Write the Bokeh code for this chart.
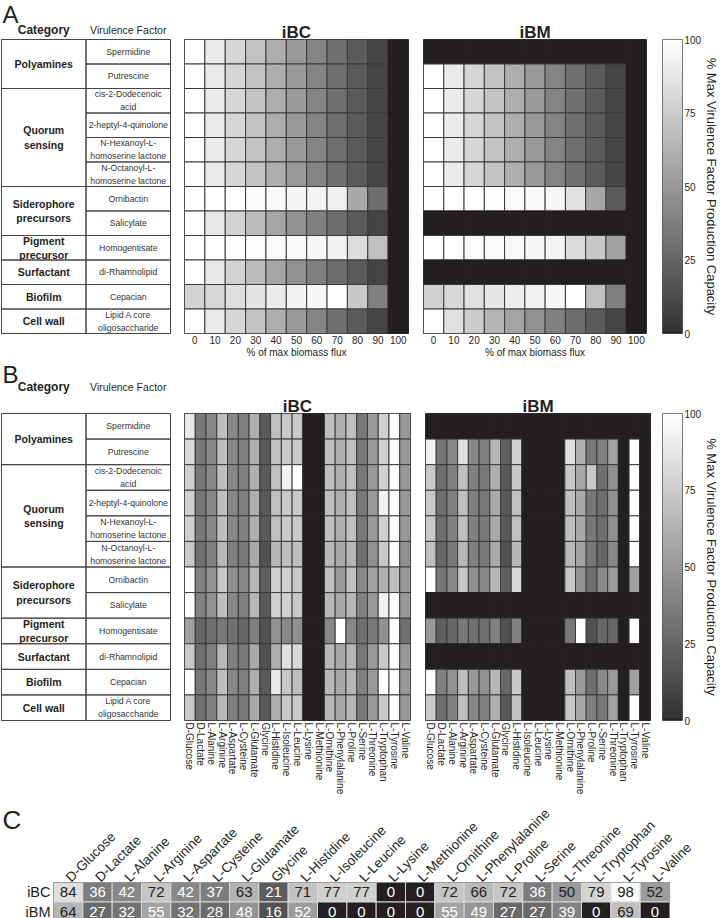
import numpy as np
from bokeh.plotting import figure
from bokeh.models import Range1d, FactorRange, ColumnDataSource, LinearColorMapper, FixedTicker
from bokeh.layouts import row, column
from bokeh.embed import file_html
from bokeh.resources import INLINE
from bokeh.core.properties import value

FONT = "Liberation Sans"
INK = "#231f20"
CELL_LINE = "#3a3a3a"
TABLE_LINE = "#444444"

# ---------------- data ----------------
categories = ["Polyamines", "Quorum\nsensing", "Siderophore\nprecursors",
              "Pigment\nprecursor", "Surfactant", "Biofilm", "Cell wall"]
category_rows = [2, 4, 2, 1, 1, 1, 1]
virulence_factors = ["Spermidine", "Putrescine", "cis-2-Dodecenoic\nacid",
                     "2-heptyl-4-quinolone", "N-Hexanoyl-L-\nhomoserine lactone",
                     "N-Octanoyl-L-\nhomoserine lactone", "Ornibactin", "Salicylate",
                     "Homogentisate", "di-Rhamnolipid", "Cepacian",
                     "Lipid A core\noligosaccharide"]
biomass_levels = ["0", "10", "20", "30", "40", "50", "60", "70", "80", "90", "100"]
nutrients = ["D-Glucose", "D-Lactate", "L-Alanine", "L-Arginine", "L-Aspartate",
             "L-Cysteine", "L-Glutamate", "Glycine", "L-Histidine", "L-Isoleucine",
             "L-Leucine", "L-Lysine", "L-Methionine", "L-Ornithine", "L-Phenylalanine",
             "L-Proline", "L-Serine", "L-Threonine", "L-Tryptophan", "L-Tyrosine", "L-Valine"]
models = ["iBC", "iBM"]
colorbar_ticks = [0, 25, 50, 75, 100]

# Panel A: % max virulence factor production vs % of max biomass flux
ibc_biomass = [
    [100, 90, 80, 70, 60, 50, 40, 30, 20, 10, 0],
    [100, 90, 80, 70, 60, 50, 40, 30, 20, 10, 0],
    [100, 90, 80, 70, 60, 50, 40, 30, 20, 10, 0],
    [100, 90, 80, 70, 60, 50, 40, 30, 20, 10, 0],
    [100, 90, 80, 70, 60, 50, 40, 30, 20, 10, 0],
    [100, 90, 80, 70, 60, 50, 40, 30, 20, 10, 0],
    [100, 100, 100, 98, 97, 95, 94, 92, 58, 29, 0],
    [100, 89, 78, 67, 56, 46, 38, 29, 19, 9, 0],
    [100, 100, 99, 99, 98, 97, 96, 93, 83, 69, 0],
    [100, 89, 78, 67, 56, 46, 38, 29, 19, 9, 0],
    [79, 81, 84, 87, 90, 93, 96, 100, 73, 38, 0],
    [100, 90, 80, 70, 60, 50, 40, 30, 20, 10, 0],
]
ibm_biomass = [
    [0, 0, 0, 0, 0, 0, 0, 0, 0, 0, 0],
    [100, 90, 80, 70, 60, 50, 40, 30, 20, 10, 0],
    [100, 90, 80, 70, 60, 50, 40, 30, 20, 10, 0],
    [100, 90, 80, 70, 60, 50, 40, 30, 20, 10, 0],
    [100, 90, 80, 70, 60, 50, 40, 30, 20, 10, 0],
    [100, 90, 80, 70, 60, 50, 40, 30, 20, 10, 0],
    [100, 100, 100, 99, 98, 97, 96, 85, 56, 20, 0],
    [0, 0, 0, 0, 0, 0, 0, 0, 0, 0, 0],
    [100, 100, 99, 98, 97, 96, 94, 82, 73, 54, 0],
    [0, 0, 0, 0, 0, 0, 0, 0, 0, 0, 0],
    [77, 81, 85, 88, 91, 93, 96, 100, 69, 38, 0],
    [100, 85, 75, 64, 55, 46, 38, 29, 20, 10, 0],
]

# Panel B: % max virulence factor production per sole carbon/nitrogen source
ibc_nutrient = [
    [89, 34, 42, 69, 42, 38, 61, 19, 69, 73, 73, 0, 0, 69, 61, 69, 34, 50, 77, 100, 50],
    [81, 34, 42, 69, 42, 38, 61, 19, 69, 73, 73, 0, 0, 69, 61, 69, 34, 50, 77, 100, 50],
    [77, 34, 42, 69, 42, 38, 61, 19, 69, 93, 100, 0, 0, 69, 61, 69, 34, 50, 77, 100, 50],
    [77, 34, 42, 69, 42, 38, 61, 19, 69, 73, 73, 0, 0, 69, 61, 69, 34, 50, 93, 100, 50],
    [77, 34, 42, 69, 42, 38, 61, 19, 69, 73, 73, 0, 0, 69, 61, 69, 34, 50, 77, 100, 50],
    [73, 30, 38, 65, 38, 34, 58, 15, 65, 69, 69, 0, 0, 65, 58, 65, 30, 46, 73, 100, 46],
    [100, 38, 46, 73, 46, 42, 65, 22, 77, 77, 73, 0, 0, 69, 50, 69, 42, 54, 61, 69, 50],
    [100, 38, 46, 69, 42, 38, 65, 19, 77, 77, 73, 0, 0, 65, 58, 65, 38, 50, 93, 100, 50],
    [54, 26, 30, 34, 30, 26, 38, 15, 46, 42, 46, 0, 0, 42, 100, 42, 30, 34, 46, 100, 30],
    [73, 30, 38, 65, 38, 34, 58, 15, 61, 85, 81, 0, 0, 65, 58, 65, 34, 50, 73, 100, 50],
    [100, 34, 42, 69, 42, 38, 61, 19, 89, 73, 69, 0, 0, 65, 58, 65, 38, 50, 100, 100, 50],
    [73, 30, 38, 65, 38, 34, 58, 19, 61, 73, 73, 0, 0, 65, 58, 65, 34, 50, 73, 100, 50],
]
ibm_nutrient = [
    [0, 0, 0, 0, 0, 0, 0, 0, 0, 0, 0, 0, 0, 0, 0, 0, 0, 0, 0, 0, 0],
    [93, 34, 42, 85, 42, 38, 65, 22, 77, 0, 0, 0, 0, 85, 61, 34, 38, 54, 0, 100, 0],
    [73, 30, 38, 69, 38, 34, 61, 19, 73, 0, 0, 0, 0, 73, 58, 73, 30, 46, 0, 100, 0],
    [73, 30, 38, 69, 38, 34, 58, 19, 69, 0, 0, 0, 0, 69, 58, 34, 30, 46, 0, 100, 0],
    [73, 30, 38, 69, 38, 34, 58, 19, 69, 0, 0, 0, 0, 69, 58, 34, 30, 46, 0, 100, 0],
    [69, 26, 34, 65, 38, 34, 58, 15, 65, 0, 0, 0, 0, 65, 54, 34, 26, 42, 0, 100, 0],
    [100, 34, 42, 73, 46, 42, 65, 22, 81, 0, 0, 0, 0, 73, 46, 30, 42, 50, 0, 54, 0],
    [0, 0, 0, 0, 0, 0, 0, 0, 0, 0, 0, 0, 0, 0, 0, 0, 0, 0, 0, 0, 0],
    [50, 22, 26, 34, 30, 30, 38, 15, 38, 0, 0, 0, 0, 34, 100, 15, 26, 26, 0, 100, 0],
    [0, 0, 0, 0, 0, 0, 0, 0, 0, 0, 0, 0, 0, 0, 0, 0, 0, 0, 0, 0, 0],
    [100, 38, 46, 69, 50, 46, 65, 26, 73, 0, 0, 0, 0, 69, 50, 30, 42, 50, 0, 54, 0],
    [73, 30, 38, 69, 42, 38, 61, 19, 69, 0, 0, 0, 0, 73, 58, 38, 34, 54, 0, 100, 0],
]

# Panel C: summary values per nutrient
ibc_summary = [84, 36, 42, 72, 42, 37, 63, 21, 71, 77, 77, 0, 0, 72, 66, 72, 36, 50, 79, 98, 52]
ibm_summary = [64, 27, 32, 55, 32, 28, 48, 16, 52, 0, 0, 0, 0, 55, 49, 27, 27, 39, 0, 69, 0]

# ---------------- colour scale ----------------
def _gray(level):
    g = int(round(level))
    return "#{0:02x}{0:02x}{0:02x}".format(g)

palette = [INK] + [_gray(50 + 205 * i / 255) for i in range(1, 256)]
mapper = LinearColorMapper(palette=palette, low=0, high=100)


def _free(p):
    try:
        p.frame_align = False
    except Exception:
        pass
    return p


def table_fig(letter, height, top, frame_h, letter_px, header_px):
    n = len(virulence_factors)
    rh = frame_h / n
    cw = 84.5
    p = figure(width=176, height=height, min_border=0,
               x_range=Range1d(-1.0 / cw, 175.0 / cw),
               y_range=Range1d((height - top) / rh, -top / rh),
               x_axis_type=None, y_axis_type=None, outline_line_color=None,
               toolbar_location=None, output_backend="svg")
    _free(p)
    starts = np.cumsum([0] + category_rows[:-1])
    sizes = np.array(category_rows)
    idx = np.arange(n)
    p.quad(left=1, right=2, top=idx, bottom=idx + 1, fill_color=None,
           line_color=TABLE_LINE, line_width=1)
    p.quad(left=0, right=1, top=starts, bottom=starts + sizes, fill_color=None,
           line_color=TABLE_LINE, line_width=1)
    p.text(x=0.5, y=starts + sizes / 2.0, text=categories, text_font=value(FONT),
           text_font_size=value("10.5px"), text_font_style="bold", text_align="center",
           text_baseline="middle", text_color=INK, text_line_height=1.2)
    p.text(x=1.5, y=idx + 0.5, text=virulence_factors, text_font=value(FONT),
           text_font_size=value("8.7px"), text_align="center", text_baseline="middle",
           text_color="#333333", text_line_height=1.3)
    hy = -header_px / rh
    p.text(x=[0.5], y=[hy], text=["Category"], text_font=value(FONT),
           text_font_size=value("12px"), text_font_style="bold", text_align="center",
           text_baseline="middle", text_color=INK)
    p.text(x=[1.5], y=[hy], text=["Virulence Factor"], text_font=value(FONT),
           text_font_size=value("10.5px"), text_align="center", text_baseline="middle",
           text_color=INK)
    p.text(x=[1.0 / cw], y=[-letter_px / rh], text=[letter], text_font=value(FONT),
           text_font_size=value("24px"), text_align="left", text_baseline="middle",
           text_color=INK)
    return p


def heatmap(matrix, xfactors, title, fw, fh, left, right, top, bottom,
            label_size, orientation, xlabel=None):
    p = figure(x_range=FactorRange(factors=list(xfactors)),
               y_range=FactorRange(factors=list(reversed(virulence_factors))),
               frame_width=fw, frame_height=fh, min_border_left=left,
               min_border_right=right, min_border_top=top, min_border_bottom=bottom,
               title=title, toolbar_location=None, output_backend="svg")
    xs, ys, vs, lcs = [], [], [], []
    for r, vf in enumerate(virulence_factors):
        for c, xf in enumerate(xfactors):
            v = matrix[r][c]
            xs.append(xf)
            ys.append(vf)
            vs.append(v)
            lcs.append(INK if v == 0 else CELL_LINE)
    src = ColumnDataSource(dict(x=xs, y=ys, v=vs, lc=lcs))
    p.rect(x="x", y="y", width=1, height=1, source=src,
           fill_color={"field": "v", "transform": mapper}, line_color="lc", line_width=1)
    p.grid.visible = False
    p.yaxis.visible = False
    p.outline_line_color = CELL_LINE
    p.title.text_font = FONT
    p.title.text_font_size = "17px"
    p.title.text_font_style = "bold"
    p.title.text_color = INK
    p.title.align = "center"
    p.title.standoff = -4
    ax = p.xaxis[0]
    ax.axis_line_color = None
    ax.major_tick_line_color = None
    ax.minor_tick_line_color = None
    ax.major_tick_out = 0
    ax.major_tick_in = 0
    ax.major_label_standoff = 2
    ax.major_label_text_font = FONT
    ax.major_label_text_font_size = label_size
    ax.major_label_text_color = INK
    ax.major_label_orientation = orientation
    if xlabel:
        ax.axis_label = xlabel
        ax.axis_label_text_font = FONT
        ax.axis_label_text_font_size = label_size
        ax.axis_label_text_font_style = "normal"
        ax.axis_label_text_color = INK
        ax.axis_label_standoff = 0
    return p


def colorbar_fig(fh, top, bottom):
    p = figure(x_range=Range1d(0, 1), y_range=Range1d(0, 100), frame_width=20,
               frame_height=fh, min_border_left=11, min_border_right=37,
               min_border_top=top, min_border_bottom=bottom, x_axis_type=None,
               y_axis_location="right", toolbar_location=None, output_backend="svg")
    grad = np.linspace(mapper.low, mapper.high, 300).reshape(300, 1)
    p.image(image=[grad], x=0, y=0, dw=1, dh=100, color_mapper=mapper)
    p.grid.visible = False
    p.outline_line_color = "#555555"
    ax = p.yaxis[0]
    ax.ticker = FixedTicker(ticks=colorbar_ticks)
    ax.axis_line_color = None
    ax.major_tick_line_color = None
    ax.minor_tick_line_color = None
    ax.major_tick_out = 0
    ax.major_tick_in = 0
    ax.major_label_standoff = 2
    ax.major_label_text_font = FONT
    ax.major_label_text_font_size = "10px"
    ax.major_label_text_color = INK
    ax.axis_label = "% Max Virulence Factor Production Capacity"
    ax.axis_label_text_font = FONT
    ax.axis_label_text_font_size = "13px"
    ax.axis_label_text_font_style = "normal"
    ax.axis_label_text_color = INK
    ax.axis_label_standoff = 0
    return p


# ---------------- panel A ----------------
A_TOP, A_FH, A_BOT = 39, 294, 26
A_H = A_TOP + A_FH + A_BOT
tA = table_fig("A", A_H, A_TOP, A_FH, letter_px=25, header_px=10)
hA1 = heatmap(ibc_biomass, biomass_levels, "iBC", 224, A_FH, 8, 8, A_TOP, A_BOT,
              "10px", "horizontal", "% of max biomass flux")
hA2 = heatmap(ibm_biomass, biomass_levels, "iBM", 223, A_FH, 7, 5, A_TOP, A_BOT,
              "10px", "horizontal", "% of max biomass flux")
cA = colorbar_fig(A_FH, A_TOP, A_BOT)

# ---------------- panel B ----------------
B_TOP, B_FH, B_BOT = 53, 307, 75
B_H = B_TOP + B_FH + B_BOT
tB = table_fig("B", B_H, B_TOP, B_FH, letter_px=39, header_px=27)
hB1 = heatmap(ibc_nutrient, nutrients, "iBC", 226, B_FH, 8, 7, B_TOP, B_BOT,
              "10px", -np.pi / 2)
hB2 = heatmap(ibm_nutrient, nutrients, "iBM", 225, B_FH, 8, 1, B_TOP, B_BOT,
              "10px", -np.pi / 2)
cB = colorbar_fig(B_FH, B_TOP, B_BOT)

# ---------------- panel C ----------------
C_TOP, C_FH = 83, 39
C_H = C_TOP + C_FH
lc = figure(width=22, height=C_H, min_border=0, x_range=Range1d(0, 22),
            y_range=Range1d(C_H, 0), x_axis_type=None, y_axis_type=None,
            outline_line_color=None, toolbar_location=None, output_backend="svg")
_free(lc)
lc.text(x=[2], y=[22], text=["C"], text_font=value(FONT), text_font_size=value("26px"),
        text_align="left", text_baseline="middle", text_color=INK)

pc = figure(x_range=FactorRange(factors=nutrients),
            y_range=FactorRange(factors=list(reversed(models))),
            x_axis_location="above", frame_width=616, frame_height=C_FH,
            min_border_left=27, min_border_right=54, min_border_top=C_TOP,
            min_border_bottom=0, toolbar_location=None, output_backend="svg")
_free(pc)
cx, cy, cv, ctc = [], [], [], []
for m, vals, thr in (("iBC", ibc_summary, 50), ("iBM", ibm_summary, 56)):
    for n, v in zip(nutrients, vals):
        cx.append(n)
        cy.append(m)
        cv.append(v)
        ctc.append("white" if v < thr else INK)
csrc = ColumnDataSource(dict(x=cx, y=cy, v=cv, label=[str(v) for v in cv], tc=ctc))
pc.rect(x="x", y="y", width=1, height=1, source=csrc,
        fill_color={"field": "v", "transform": mapper}, line_color="#d8d8d8", line_width=1)
pc.text(x="x", y="y", text="label", source=csrc, text_color="tc", text_font=value(FONT),
        text_font_size=value("15px"), text_align="center", text_baseline="middle")
pc.grid.visible = False
pc.outline_line_color = CELL_LINE
for ax in (pc.xaxis[0], pc.yaxis[0]):
    ax.axis_line_color = None
    ax.major_tick_line_color = None
    ax.minor_tick_line_color = None
    ax.major_tick_out = 0
    ax.major_tick_in = 0
    ax.major_label_text_font = FONT
    ax.major_label_text_color = INK
pc.xaxis[0].major_label_text_font_size = "13.5px"
pc.xaxis[0].major_label_orientation = np.pi / 4
pc.xaxis[0].major_label_standoff = 3
pc.yaxis[0].major_label_text_font_size = "14.5px"
pc.yaxis[0].major_label_standoff = 3

layout = column(row(tA, hA1, hA2, cA), row(tB, hB1, hB2, cB), row(lc, pc))
open("out.html", "w").write(file_html(layout, INLINE, title="Virulence factor production"))
